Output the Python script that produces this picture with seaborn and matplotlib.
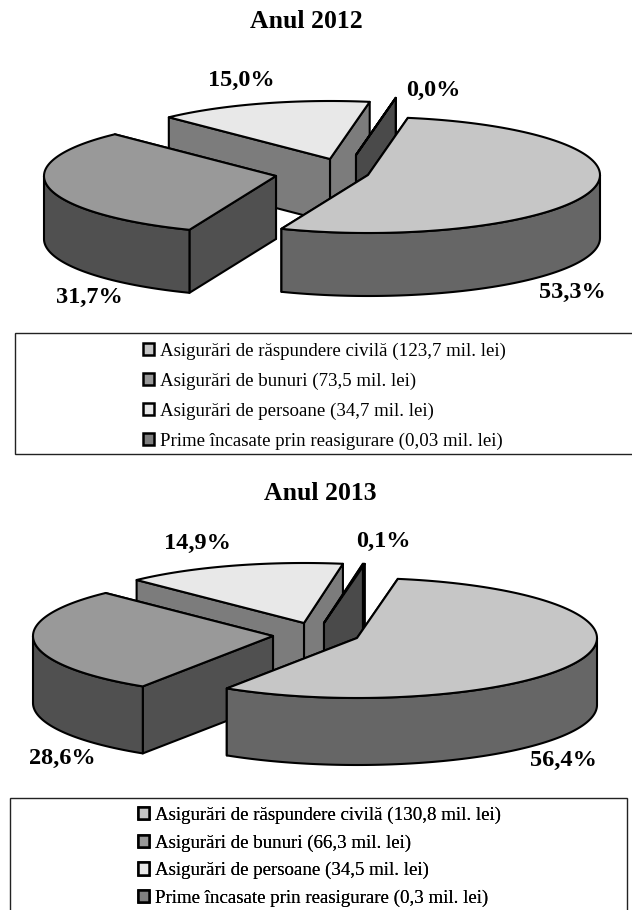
import numpy as np
import matplotlib
matplotlib.use("Agg")
import matplotlib.pyplot as plt
from matplotlib.patches import Polygon, Rectangle
import seaborn as sns

# ---- data ----
CATEGORIES = ["Asigurări de răspundere civilă", "Asigurări de bunuri",
              "Asigurări de persoane", "Prime încasate prin reasigurare"]
VALUES_2012 = [123.7, 73.5, 34.7, 0.03]
VALUES_2013 = [130.8, 66.3, 34.5, 0.3]
VALUE_TEXT_2012 = ["123,7", "73,5", "34,7", "0,03"]
VALUE_TEXT_2013 = ["130,8", "66,3", "34,5", "0,3"]
PERCENT_2012 = ["53,3%", "31,7%", "15,0%", "0,0%"]
PERCENT_2013 = ["56,4%", "28,6%", "14,9%", "0,1%"]

# ---- styles ----
TOP_COLORS = ["#c6c6c6", "#999999", "#e8e8e8", "#7f7f7f"]
OUTER_COLORS = ["#666666", "#505050", "#7a7a7a", "#4a4a4a"]
RADIAL_COLORS = ["#666666", "#505050", "#7c7c7c", "#4a4a4a"]
EDGE = "black"
LW = 1.5

# ---- layout (pixels of the 632x910 canvas) ----
LAYOUT_2012 = dict(a=232, b=58, depth=63, start=9.9,
                   apex=[(368, 175), (276, 176), (330, 159), (356, 155)],
                   label_xy=[(572, 292), (89, 297), (241, 80), (433, 90)],
                   title_xy=(306, 21), title="Anul 2012",
                   frame=(15, 333, 640, 121), legend_xy=(139, 339), spacing=0.67)
LAYOUT_2013 = dict(a=240, b=60, depth=67, start=9.8,
                   apex=[(357, 638), (273, 636), (304, 623), (324, 623)],
                   label_xy=[(563, 760), (62, 758), (197, 543), (383, 541)],
                   title_xy=(320, 494), title="Anul 2013",
                   frame=(10, 798, 617, 130), legend_xy=(134, 803), spacing=0.54)

sns.set_theme(style="white", rc={"axes.facecolor": "white", "figure.facecolor": "white"})
plt.rcParams["font.family"] = ["Liberation Serif", "DejaVu Serif"]

fig = plt.figure(figsize=(6.32, 9.10), dpi=100)
ax = fig.add_axes([0, 0, 1, 1])
ax.set_xlim(0, 632)
ax.set_ylim(910, 0)
ax.axis("off")

tops = sns.color_palette(TOP_COLORS)
z = [0]


def add(poly, color):
    z[0] += 1
    ax.add_patch(Polygon(poly, closed=True, facecolor=color, edgecolor=EDGE,
                         linewidth=LW, joinstyle="round", zorder=z[0]))


def rim(apex, a, b, t0, t1, n=120):
    th = np.radians(np.linspace(t0, t1, n))
    return np.column_stack([apex[0] + a * np.sin(th), apex[1] - b * np.cos(th)])


def draw_pie(values, percents, value_text, L):
    vals = np.asarray(values, float)
    sweep = vals / vals.sum() * 360
    starts = L["start"] + np.concatenate([[0], np.cumsum(sweep)[:-1]])
    a, b, d = L["a"], L["b"], L["depth"]
    for i in [2, 3, 1, 0]:           # back to front
        apex = np.array(L["apex"][i], float)
        t0, t1 = starts[i], starts[i] + sweep[i]
        arc = rim(apex, a, b, t0, t1)
        down = np.array([0, d])
        for t in (t1, t0):
            p = rim(apex, a, b, t, t, 1)[0]
            add([apex, p, p + down, apex + down], RADIAL_COLORS[i])
        lo, hi = max(t0, 90), min(t1, 270)
        if hi > lo:
            o = rim(apex, a, b, lo, hi)
            add(np.vstack([o, (o + down)[::-1]]), OUTER_COLORS[i])
        add(np.vstack([apex, arc]), tops[i])
    for txt, xy in zip(percents, L["label_xy"]):
        ax.text(*xy, txt, ha="center", va="center", fontsize=17.5,
                fontweight="bold", color="black", zorder=100)
    ax.text(*L["title_xy"], L["title"], ha="center", va="center", fontsize=18.5,
            fontweight="bold", color="black", zorder=100)
    x, y, w, h = L["frame"]
    ax.add_patch(Rectangle((x, y), w, h, facecolor="white", edgecolor="#222222",
                           linewidth=1.0, zorder=90, clip_on=True))
    handles = [Rectangle((0, 0), 1, 1, facecolor=c, edgecolor="black", linewidth=1.8)
               for c in TOP_COLORS]
    labels = [f"{c} ({v} mil. lei)" for c, v in zip(CATEGORIES, value_text)]
    leg = ax.legend(handles, labels, loc="upper left", bbox_to_anchor=L["legend_xy"],
                    bbox_transform=ax.transData, frameon=False, fontsize=13.6,
                    handlelength=0.62, handleheight=0.62, handletextpad=0.28,
                    labelspacing=L["spacing"], borderaxespad=0, borderpad=0.2,
                    labelcolor="black")
    leg.set_zorder(95)
    ax.add_artist(leg)


draw_pie(VALUES_2012, PERCENT_2012, VALUE_TEXT_2012, LAYOUT_2012)
draw_pie(VALUES_2013, PERCENT_2013, VALUE_TEXT_2013, LAYOUT_2013)

fig.savefig("out.png", dpi=100, facecolor="white")
